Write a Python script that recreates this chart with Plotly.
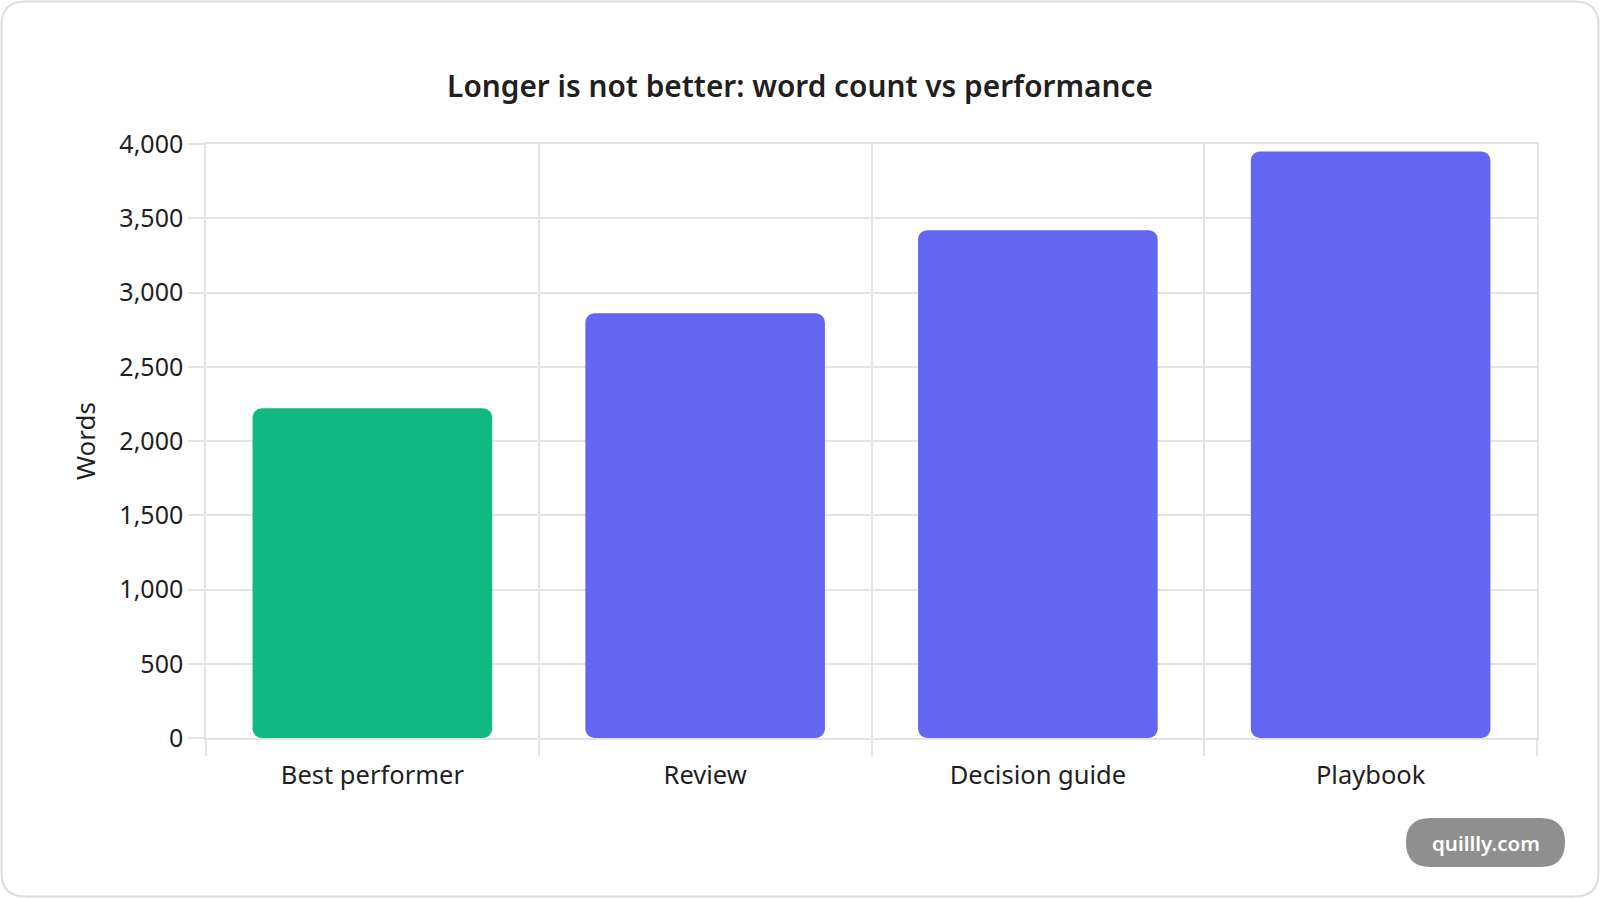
import plotly.graph_objects as go

# Chart data
categories = ["Best performer", "Review", "Decision guide", "Playbook"]
word_counts = [2220, 2860, 3420, 3950]
bar_colors = ["#10B981", "#6366F1", "#6366F1", "#6366F1"]
y_ticks = [0, 500, 1000, 1500, 2000, 2500, 3000, 3500, 4000]

W, H = 1600, 898
M_L, M_R, M_T, M_B = 206, 63, 144, 160
GRID = "#e4e4e4"
TEXT = "#1f1f1f"
FONT = "Noto Sans"


def to_paper(x, y):
    # pixel position on the page -> paper coordinates
    pw = W - M_L - M_R
    ph = H - M_T - M_B
    return (x - M_L) / pw, (H - M_B - y) / ph


def rounded_rect(x0, y0, x1, y1, r):
    pts = [
        ("M", [(x0 + r, y0)]),
        ("L", [(x1 - r, y0)]),
        ("Q", [(x1, y0), (x1, y0 + r)]),
        ("L", [(x1, y1 - r)]),
        ("Q", [(x1, y1), (x1 - r, y1)]),
        ("L", [(x0 + r, y1)]),
        ("Q", [(x0, y1), (x0, y1 - r)]),
        ("L", [(x0, y0 + r)]),
        ("Q", [(x0, y0), (x0 + r, y0)]),
    ]
    out = []
    for cmd, coords in pts:
        s = " ".join("%.5f,%.5f" % to_paper(cx, cy) for cx, cy in coords)
        out.append(cmd + " " + s)
    return " ".join(out) + " Z"


def main():
    fig = go.Figure()

    # explicit base -> plotly rounds both ends of the bar
    fig.add_trace(go.Bar(
        x=categories, y=word_counts, base=[0] * len(word_counts),
        marker=dict(color=bar_colors, line_width=0, cornerradius=9),
        width=0.72,
        hovertemplate="%{x}: %{y:,}<extra></extra>",
        showlegend=False,
    ))

    wx, wy = to_paper(1486, 843)
    fig.update_layout(
        width=W, height=H,
        margin=dict(l=M_L, r=M_R, t=M_T, b=M_B),
        paper_bgcolor="white", plot_bgcolor="white",
        font=dict(family=FONT, color=TEXT, size=25),
        title=dict(
            text="Longer is not better: word count vs performance",
            x=0.5, xanchor="center", y=1 - 87 / H, yanchor="middle",
            font=dict(size=29.8, color=TEXT, weight=600),
        ),
        shapes=[
            dict(type="path", xref="paper", yref="paper", layer="below",
                 path=rounded_rect(1.5, 1.5, W - 1.5, H - 1.5, 24),
                 line=dict(color="#dcdcdc", width=2), fillcolor="white"),
            dict(type="path", xref="paper", yref="paper", layer="above",
                 path=rounded_rect(1406, 818, 1565, 867, 24.5),
                 line=dict(width=0), fillcolor="#8f8f8f"),
        ],
        annotations=[
            dict(text="quillly.com", xref="paper", yref="paper",
                 x=wx, y=wy, xanchor="center", yanchor="middle",
                 showarrow=False,
                 font=dict(size=20.5, color="white", family=FONT, weight=600)),
        ],
    )

    fig.update_xaxes(
        type="category", tickson="boundaries",
        showgrid=True, gridcolor=GRID, gridwidth=1.5,
        ticks="outside", ticklen=16, tickcolor=GRID, tickwidth=1.5,
        showline=True, linecolor=GRID, linewidth=1.5, mirror=True,
        tickfont=dict(size=25.5, color=TEXT), ticklabelstandoff=14,
        fixedrange=True,
    )
    fig.update_yaxes(
        range=[0, 4000], tickvals=y_ticks, tickformat=",",
        showgrid=True, gridcolor=GRID, gridwidth=1.5, zeroline=False,
        ticks="outside", ticklen=16, tickcolor=GRID, tickwidth=1.5,
        showline=True, linecolor=GRID, linewidth=1.5, mirror=True,
        tickfont=dict(size=25, color=TEXT), ticklabelstandoff=0,
        title=dict(text="Words", font=dict(size=26, color=TEXT), standoff=16),
        fixedrange=True,
    )

    fig.write_html("out.html", config={"displayModeBar": False},
                   post_script="document.body.style.margin='0px';")


if __name__ == "__main__":
    main()
